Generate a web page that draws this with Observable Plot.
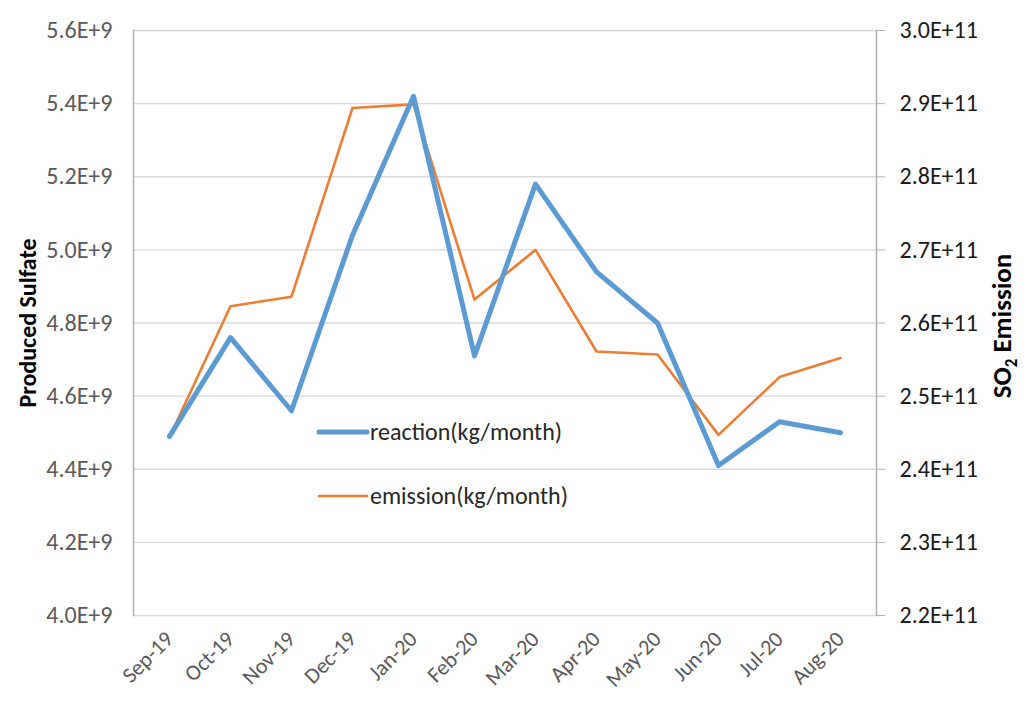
<!DOCTYPE html>
<html><head><meta charset="utf-8">
<script src="https://cdn.jsdelivr.net/npm/d3@7"></script>
<script src="https://cdn.jsdelivr.net/npm/@observablehq/plot@0.6"></script>
<style>body{margin:0;background:#fff;} svg{display:block;}</style>
</head><body><div id="chart"></div>
<script>
const months = ["Sep-19","Oct-19","Nov-19","Dec-19","Jan-20","Feb-20","Mar-20","Apr-20","May-20","Jun-20","Jul-20","Aug-20"];
const reaction = [4.49e9, 4.76e9, 4.56e9, 5.04e9, 5.42e9, 4.71e9, 5.18e9, 4.94e9, 4.80e9, 4.41e9, 4.53e9, 4.50e9];
const emission = [2.444e11, 2.623e11, 2.636e11, 2.894e11, 2.899e11, 2.632e11, 2.70e11, 2.561e11, 2.557e11, 2.447e11, 2.526e11, 2.552e11];
const leftTicks = [4.0e9, 4.2e9, 4.4e9, 4.6e9, 4.8e9, 5.0e9, 5.2e9, 5.4e9, 5.6e9];
const rightTicks = [2.2e11, 2.3e11, 2.4e11, 2.5e11, 2.6e11, 2.7e11, 2.8e11, 2.9e11, 3.0e11];
const leftDomain = [4.0e9, 5.6e9];
const rightDomain = [2.2e11, 3.0e11];
const seriesNames = ["reaction(kg/month)", "emission(kg/month)"];
const colors = ["#5B9BD5", "#ED7D31"];

const toLeft = v => leftDomain[0] + (v - rightDomain[0]) / (rightDomain[1] - rightDomain[0]) * (leftDomain[1] - leftDomain[0]);
const fromLeft = v => rightDomain[0] + (v - leftDomain[0]) / (leftDomain[1] - leftDomain[0]) * (rightDomain[1] - rightDomain[0]);

const reactData = months.map((m, i) => ({month: m, v: reaction[i]}));
const emitData = months.map((m, i) => ({month: m, v: toLeft(emission[i])}));

const FONT = "Calibri, Carlito, 'Liberation Sans', sans-serif";

const plot = Plot.plot({
  width: 1033,
  height: 713,
  marginLeft: 133,
  marginRight: 157,
  marginTop: 30,
  marginBottom: 98,
  style: {fontFamily: FONT, background: "#fff", overflow: "visible"},
  x: {type: "point", domain: months, padding: 0.5},
  y: {domain: leftDomain},
  marks: [
    Plot.gridY(leftTicks, {stroke: "#d9d9d9", strokeOpacity: 1, strokeWidth: 1.3}),
    Plot.frame({anchor: "left", stroke: "#b0b0b0", strokeWidth: 1.5}),
    Plot.frame({anchor: "right", stroke: "#b0b0b0", strokeWidth: 1.5}),
    Plot.axisY(leftTicks, {anchor: "left", tickSize: 0, tickPadding: 21, fontSize: 24, fill: "#595959",
      tickFormat: d => (d / 1e9).toFixed(1) + "E+9", label: null}),
    Plot.axisY(rightTicks.map(toLeft), {anchor: "right", tickSize: 8, tickPadding: 15, fontSize: 24, fill: "#1a1a1a", stroke: "#b0b0b0",
      tickFormat: d => (fromLeft(d) / 1e11).toFixed(1) + "E+11", label: null}),
    Plot.axisX({anchor: "bottom", tickSize: 0, tickPadding: 20, tickRotate: -45, fontSize: 22, fill: "#595959", label: null}),
    Plot.line(emitData, {x: "month", y: "v", stroke: colors[1], strokeWidth: 2.6, strokeLinejoin: "round"}),
    Plot.line(reactData, {x: "month", y: "v", stroke: colors[0], strokeWidth: 5, strokeLinejoin: "round", strokeLinecap: "round"})
  ]
});
document.getElementById("chart").appendChild(plot);

const svg = d3.select(plot);
// Axis titles
svg.append("text")
  .attr("transform", "translate(36,323) rotate(-90)")
  .attr("text-anchor", "middle")
  .attr("font-family", FONT).attr("font-size", 24).attr("font-weight", "bold").attr("fill", "#000")
  .text("Produced Sulfate");
const t2 = svg.append("text")
  .attr("transform", "translate(1011,326) rotate(-90)")
  .attr("text-anchor", "middle")
  .attr("font-family", FONT).attr("font-size", 27).attr("font-weight", "bold").attr("fill", "#000");
t2.append("tspan").text("SO");
t2.append("tspan").attr("font-size", 17).attr("dy", 6).text("2");
t2.append("tspan").attr("dy", -6).text(" Emission");

// Legend
const legY = [432, 496];
seriesNames.forEach((name, i) => {
  svg.append("line").attr("x1", 319).attr("x2", 367).attr("y1", legY[i]).attr("y2", legY[i])
    .attr("stroke", colors[i]).attr("stroke-width", i === 0 ? 5 : 2.6).attr("stroke-linecap", "round");
  svg.append("text").attr("x", 370).attr("y", legY[i]).attr("dy", "0.35em").attr("text-anchor", "start")
    .attr("font-family", FONT).attr("font-size", 24).attr("fill", "#262626").text(name);
});
</script>
</body></html>
